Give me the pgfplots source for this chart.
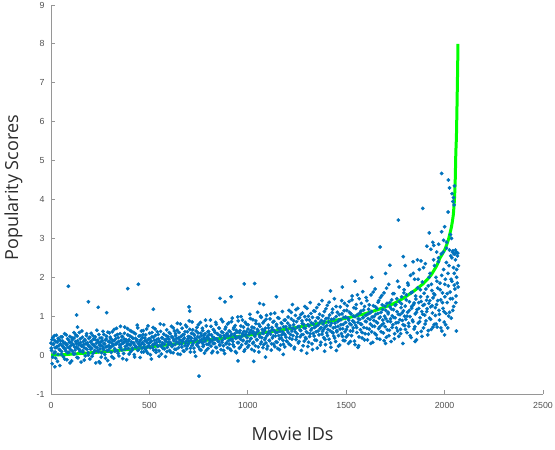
\documentclass[border=0pt]{standalone}
\usepackage{fontspec}
\setmainfont{Open Sans}
\newfontfamily\tickfont{Liberation Sans}
\usepackage{pgfplots}
\pgfplotsset{compat=1.18}
\definecolor{mblue}{RGB}{0,114,189}
\definecolor{mgreen}{RGB}{0,255,0}
\definecolor{axgray}{RGB}{150,150,150}
\definecolor{tickgray}{RGB}{80,80,80}
\definecolor{labgray}{RGB}{45,45,45}
\begin{document}
\begin{tikzpicture}
\begin{axis}[
  scale only axis,
  width=492pt, height=389pt,
  xmin=0, xmax=2500, ymin=-1, ymax=9,
  xtick={0,500,1000,1500,2000,2500},
  ytick={-1,0,1,2,3,4,5,6,7,8,9},
  axis x line*=bottom, axis y line*=left,
  axis line style={-, draw=axgray, line width=0.8pt},
  tick align=inside,
  major tick length=4pt,
  tick style={draw=axgray, line width=0.8pt},
  /pgf/number format/assume math mode=true,
  /pgf/number format/1000 sep={},
  ticklabel style={font=\tickfont\fontsize{8.8}{10}\selectfont, text=tickgray},
  xticklabel style={yshift=-5pt},
  yticklabel style={xshift=-3pt},
  xlabel={Movie IDs},
  ylabel={Popularity Scores},
  label style={font=\fontsize{18}{21}\selectfont, text=labgray},
  xlabel style={at={(axis description cs:0.491,0)}, anchor=base, yshift=-46pt},
  ylabel style={at={(axis description cs:-0.067,0.53)}, anchor=base},
]
\addplot[only marks, mark=*, mark size=1.7pt, color=mblue, mark options={draw=mblue, fill=mblue}] coordinates {
(0,0.31)(3,0.12)(6,-0.22)(9,0.45)(12,0.27)(15,0.05)(18,0.38)(21,0.19)(24,-0.08)(27,0.51)
(30,0.22)(33,0.34)(36,0.02)(39,0.41)(42,0.15)(45,-0.27)(48,0.29)(51,0.47)(54,0.09)(57,0.24)
(60,0.36)(63,-0.04)(66,0.18)(69,0.55)(72,0.31)(75,0.11)(78,0.26)(81,-0.12)(84,0.42)(87,0.2)
(90,0.07)(93,0.33)(96,0.48)(99,0.14)(102,0.25)(105,-0.15)(108,0.39)(111,0.28)(114,0.03)(117,0.44)
(120,0.21)(123,0.13)(126,0.52)(129,0.3)(132,-0.06)(135,0.37)(138,0.17)(141,0.26)(144,0.58)(147,0.1)
(150,0.32)(153,-0.18)(156,0.23)(159,0.46)(162,0.08)(165,0.35)(168,0.19)(171,0.4)(174,-0.02)(177,0.29)
(180,0.5)(183,0.15)(186,0.27)(189,0.06)(192,0.43)(195,0.22)(198,-0.1)(201,0.34)(204,0.56)(207,0.18)
(210,0.28)(213,0.04)(216,0.41)(219,0.24)(222,0.12)(225,0.47)(228,-0.2)(231,0.31)(234,0.2)(237,0.38)
(240,0.09)(243,0.53)(246,0.26)(249,0.16)(252,0.33)(255,-0.05)(258,0.44)(261,0.23)(264,0.61)(267,0.14)
(270,0.3)(273,0.02)(276,0.39)(279,0.21)(282,0.48)(285,0.11)(288,-0.14)(291,0.35)(294,0.25)(297,0.57)
(300,0.19)(303,0.42)(306,0.07)(309,0.31)(312,0.6)(315,0.24)(318,-0.08)(321,0.37)(324,0.16)(327,0.5)
(330,0.28)(333,0.69)(336,0.11)(339,0.33)(342,0.45)(345,-0.02)(348,0.26)(351,0.55)(354,0.2)(357,0.38)
(360,0.13)(363,0.48)(366,0.3)(369,0.04)(372,0.41)(375,0.72)(378,0.22)(381,0.35)(384,-0.12)(387,0.29)
(390,0.52)(393,0.17)(396,0.4)(399,0.27)(402,0.63)(405,0.09)(408,0.34)(411,0.46)(414,0.14)(417,0.31)
(420,0.58)(423,0.01)(426,0.25)(429,0.43)(432,0.2)(435,0.36)(438,0.77)(441,0.12)(444,0.3)(447,0.49)
(450,0.23)(453,-0.06)(456,0.39)(459,0.62)(462,0.18)(465,0.32)(468,0.53)(471,0.08)(474,0.27)(477,0.44)
(480,0.15)(483,0.37)(486,0.67)(489,0.21)(492,0.05)(495,0.41)(498,0.3)(501,0.56)(504,0.19)(507,0.34)
(510,-0.1)(513,0.47)(516,0.26)(519,0.71)(522,0.13)(525,0.38)(528,0.29)(531,0.51)(534,0.07)(537,0.33)
(540,0.6)(543,0.22)(546,0.42)(549,0.11)(552,0.36)(555,0.8)(558,0.25)(561,0.03)(564,0.45)(567,0.31)
(570,0.17)(573,0.54)(576,0.28)(579,0.4)(582,-0.04)(585,0.35)(588,0.65)(591,0.2)(594,0.48)(597,0.32)
(600,0.41)(603,0.12)(606,0.55)(609,0.3)(612,0.74)(615,0.22)(618,0.46)(621,0.06)(624,0.37)(627,0.62)
(630,0.27)(633,0.5)(636,0.15)(639,0.43)(642,0.82)(645,0.33)(648,0.19)(651,0.58)(654,0.39)(657,0.02)
(660,0.48)(663,0.28)(666,0.69)(669,0.35)(672,0.11)(675,0.53)(678,0.44)(681,0.24)(684,0.77)(687,0.36)
(690,0.16)(693,0.6)(696,0.42)(699,0.29)(702,0.88)(705,0.47)(708,0.08)(711,0.38)(714,0.56)(717,0.25)
(720,0.65)(723,0.34)(726,0.18)(729,0.51)(732,0.43)(735,-0.03)(738,0.4)(741,0.71)(744,0.3)(747,0.57)
(750,0.21)(753,0.46)(756,0.36)(759,0.84)(762,0.13)(765,0.5)(768,0.32)(771,0.63)(774,0.26)(777,0.44)
(780,0.05)(783,0.55)(786,0.39)(789,0.75)(792,0.28)(795,0.48)(798,0.17)(801,0.61)(804,0.41)(807,0.33)
(810,0.9)(813,0.23)(816,0.52)(819,0.37)(822,0.1)(825,0.66)(828,0.45)(831,0.3)(834,0.58)(837,0.2)
(840,0.79)(843,0.42)(846,0.07)(849,0.53)(852,0.35)(855,0.69)(858,0.27)(861,0.47)(864,0.14)(867,0.6)
(870,0.38)(873,0.86)(876,0.24)(879,0.5)(882,0.04)(885,0.44)(888,0.72)(891,0.31)(894,0.56)(897,0.19)
(900,0.49)(903,0.83)(906,0.28)(909,0.61)(912,0.4)(915,0.12)(918,0.54)(921,0.95)(924,0.35)(927,0.67)
(930,0.22)(933,0.5)(936,0.76)(939,0.43)(942,0.06)(945,0.59)(948,0.32)(951,0.88)(954,0.47)(957,0.18)
(960,0.63)(963,0.41)(966,0.99)(969,0.26)(972,0.55)(975,0.37)(978,0.72)(981,0.1)(984,0.51)(987,0.84)
(990,0.3)(993,0.6)(996,0.45)(999,0.2)(1002,0.78)(1005,0.53)(1008,0.36)(1011,1.05)(1014,0.42)(1017,0.64)
(1020,0.15)(1023,0.57)(1026,0.91)(1029,0.33)(1032,0.7)(1035,0.48)(1038,0.24)(1041,0.81)(1044,0.58)(1047,0.39)
(1050,1.1)(1053,0.62)(1056,0.08)(1059,0.52)(1062,0.74)(1065,0.29)(1068,0.97)(1071,0.45)(1074,0.66)(1077,0.19)
(1080,0.56)(1083,0.87)(1086,0.4)(1089,0.69)(1092,0.31)(1095,1.02)(1098,0.5)(1101,0.23)(1104,0.77)(1107,0.6)
(1110,0.37)(1113,0.93)(1116,0.54)(1119,0.13)(1122,0.71)(1125,0.44)(1128,0.85)(1131,0.28)(1134,0.63)(1137,1.08)
(1140,0.49)(1143,0.34)(1146,0.79)(1149,0.58)(1152,0.17)(1155,0.68)(1158,0.95)(1161,0.42)(1164,0.61)(1167,0.26)
(1170,0.83)(1173,0.52)(1176,1.12)(1179,0.38)(1182,0.73)(1185,0.55)(1188,0.21)(1191,0.9)(1194,0.46)(1197,0.66)
(1200,0.35)(1203,0.82)(1206,0.58)(1209,1.15)(1212,0.44)(1215,0.71)(1218,0.25)(1221,0.93)(1224,0.62)(1227,1.3)
(1230,0.5)(1233,0.78)(1236,0.16)(1239,0.67)(1242,1.02)(1245,0.4)(1248,0.86)(1251,0.55)(1254,1.2)(1257,0.31)
(1260,0.74)(1263,0.96)(1266,0.47)(1269,0.63)(1272,0.12)(1275,0.88)(1278,1.08)(1281,0.53)(1284,0.79)(1287,0.36)
(1290,1.25)(1293,0.69)(1296,0.42)(1299,0.91)(1302,0.58)(1305,0.22)(1308,1.0)(1311,0.75)(1314,0.48)(1317,1.35)
(1320,0.64)(1323,0.83)(1326,0.29)(1329,0.97)(1332,0.56)(1335,1.14)(1338,0.71)(1341,0.39)(1344,0.87)(1347,0.6)
(1350,1.22)(1353,0.18)(1356,0.77)(1359,0.95)(1362,0.52)(1365,1.05)(1368,0.68)(1371,0.33)(1374,0.89)(1377,1.4)
(1380,0.61)(1383,0.8)(1386,0.45)(1389,1.12)(1392,0.72)(1395,0.27)(1398,0.94)(1401,0.57)(1404,1.28)(1407,0.66)
(1410,0.85)(1413,0.41)(1416,1.03)(1419,0.76)(1422,0.2)(1425,0.92)(1428,0.59)(1431,1.18)(1434,0.7)(1437,0.49)
(1440,1.45)(1443,0.82)(1446,0.35)(1449,0.99)(1452,0.63)(1455,1.1)(1458,0.74)(1461,0.5)(1464,0.9)(1467,0.26)
(1470,1.24)(1473,0.78)(1476,0.55)(1479,1.06)(1482,0.68)(1485,0.38)(1488,0.97)(1491,1.33)(1494,0.6)(1497,0.84)
(1500,0.47)(1503,1.15)(1506,0.73)(1509,0.95)(1512,0.3)(1515,1.38)(1518,0.81)(1521,0.62)(1524,1.06)(1527,0.5)
(1530,1.52)(1533,0.88)(1536,0.7)(1539,1.22)(1542,0.36)(1545,0.99)(1548,0.77)(1551,1.3)(1554,0.58)(1557,1.04)
(1560,0.84)(1563,0.24)(1566,1.45)(1569,0.92)(1572,0.65)(1575,1.13)(1578,0.79)(1581,0.44)(1584,1.63)(1587,0.97)
(1590,0.71)(1593,1.25)(1596,0.55)(1599,1.02)(1602,0.86)(1605,1.4)(1608,0.39)(1611,0.94)(1614,1.18)(1617,0.67)
(1620,1.08)(1623,0.8)(1626,1.55)(1629,0.6)(1632,0.98)(1635,0.33)(1638,1.27)(1641,0.89)(1644,0.74)(1647,1.7)
(1650,1.05)(1653,0.52)(1656,1.2)(1659,0.83)(1662,1.36)(1665,0.68)(1668,0.95)(1671,0.41)(1674,1.48)(1677,1.1)
(1680,0.77)(1683,1.29)(1686,0.9)(1689,0.57)(1692,1.6)(1695,1.0)(1698,0.73)(1701,1.15)(1704,0.46)(1707,1.33)
(1710,0.87)(1713,1.06)(1716,1.82)(1719,0.64)(1722,1.24)(1725,0.93)(1728,0.35)(1731,1.42)(1734,1.01)(1737,0.78)
(1740,1.17)(1743,1.58)(1746,0.55)(1749,0.96)(1752,1.3)(1755,0.7)(1758,1.12)(1761,1.9)(1764,0.84)(1767,0.48)
(1770,1.37)(1773,1.04)(1776,0.66)(1779,1.22)(1782,1.5)(1785,0.89)(1788,0.3)(1791,1.14)(1794,1.68)(1797,0.76)
(1800,1.26)(1803,0.92)(1806,1.55)(1809,0.58)(1812,1.1)(1815,1.8)(1818,0.74)(1821,1.37)(1824,0.99)(1827,2.05)
(1830,0.45)(1833,1.21)(1836,1.62)(1839,0.86)(1842,1.3)(1845,0.67)(1848,1.95)(1851,1.06)(1854,1.44)(1857,0.39)
(1860,1.17)(1863,1.73)(1866,0.82)(1869,1.35)(1872,2.2)(1875,0.96)(1878,1.5)(1881,0.61)(1884,1.12)(1887,1.88)
(1890,1.28)(1893,0.7)(1896,1.59)(1899,1.03)(1902,2.35)(1905,0.88)(1908,1.41)(1911,1.19)(1914,0.52)(1917,1.78)
(1920,1.33)(1923,0.95)(1926,2.1)(1929,1.24)(1932,0.66)(1935,1.66)(1938,1.08)(1941,1.47)(1944,2.45)(1947,0.79)
(1950,1.55)(1953,1.02)(1956,2.0)(1959,1.3)(1962,0.72)(1965,1.72)(1968,2.4)(1971,1.15)(1974,0.9)(1977,1.85)
(1980,1.42)(1983,2.6)(1986,0.62)(1989,1.6)(1992,1.2)(1995,2.2)(1998,0.85)(2001,1.5)(2004,1.95)(2007,1.07)
(2010,2.75)(2013,1.35)(2016,0.7)(2019,1.78)(2022,2.3)(2025,1.1)(2028,1.62)(2031,2.55)(2034,0.95)(2037,1.9)
(2040,1.45)(2043,2.68)(2046,1.25)(2049,2.1)(2052,1.7)(2055,2.45)(2058,1.52)(2061,2.2)(2064,1.85)(2067,2.62)(2070,2.3)
(1,0.18)(5,0.4)(9,-0.05)(13,0.29)(17,0.5)(21,0.08)(25,0.34)(29,0.2)(33,-0.16)(37,0.43)
(41,0.25)(45,0.13)(49,0.37)(53,0.02)(57,0.47)(61,0.22)(65,0.31)(69,-0.1)(73,0.16)(77,0.52)
(81,0.28)(85,0.06)(89,0.39)(93,0.19)(97,-0.2)(101,0.33)(105,0.45)(109,0.1)(113,0.26)(117,0.58)
(121,0.03)(125,0.35)(129,0.21)(133,0.49)(137,-0.07)(141,0.3)(145,0.14)(149,0.42)(153,0.24)(157,0.62)
(161,0.11)(165,0.27)(169,-0.13)(173,0.38)(177,0.17)(181,0.55)(185,0.32)(189,0.0)(193,0.23)(197,0.46)
(201,0.15)(205,0.36)(209,-0.03)(213,0.5)(217,0.27)(221,0.09)(225,0.4)(229,0.2)(233,0.64)(237,0.12)
(241,0.33)(245,-0.17)(249,0.44)(253,0.25)(257,0.06)(261,0.37)(265,0.18)(269,0.53)(273,0.29)(277,-0.08)
(281,0.41)(285,0.22)(289,0.59)(293,0.13)(297,0.34)
(301,0.46)(305,0.21)(309,-0.04)(313,0.38)(317,0.27)(321,0.66)(325,0.1)(329,0.42)(333,0.3)(337,0.53)
(341,0.05)(345,0.35)(349,0.2)(353,0.74)(357,0.28)(361,0.47)(365,-0.09)(369,0.33)(373,0.56)(377,0.15)
(381,0.4)(385,0.24)(389,0.68)(393,0.36)(397,0.03)(401,0.49)(405,0.26)(409,0.61)(413,0.18)(417,0.43)
(421,0.31)(425,-0.05)(429,0.55)(433,0.22)(437,0.39)(441,0.7)(445,0.14)(449,0.34)(453,0.5)(457,0.27)
(461,0.08)(465,0.45)(469,0.63)(473,0.2)(477,0.37)(481,0.52)(485,0.1)(489,0.32)(493,0.75)(497,0.24)
(501,0.42)(505,0.01)(509,0.36)(513,0.58)(517,0.19)(521,0.46)(525,0.29)(529,0.67)(533,0.13)(537,0.4)
(541,0.25)(545,0.53)(549,-0.03)(553,0.34)(557,0.61)(561,0.22)(565,0.44)(569,0.3)(573,0.78)(577,0.16)
(581,0.38)(585,0.5)(589,0.09)(593,0.43)(597,0.27)
(601,0.58)(605,0.33)(609,0.07)(613,0.47)(617,0.26)(621,0.7)(625,0.4)(629,0.15)(633,0.55)(637,0.34)
(641,0.64)(645,0.03)(649,0.45)(653,0.28)(657,0.8)(661,0.37)(665,0.21)(669,0.52)(673,0.41)(677,0.1)
(681,0.6)(685,0.31)(689,0.73)(693,0.24)(697,0.48)(701,0.36)(705,0.66)(709,0.18)(713,0.44)(717,0.85)
(721,0.29)(725,0.54)(729,0.08)(733,0.39)(737,0.62)(741,0.26)(745,0.47)(749,0.78)(753,0.33)(757,0.14)
(761,0.56)(765,0.4)(769,0.69)(773,0.22)(777,0.51)(781,0.35)(785,0.9)(789,0.12)(793,0.45)(797,0.6)
(801,0.28)(805,0.53)(809,0.38)(813,0.74)(817,0.06)(821,0.47)(825,0.3)(829,0.63)(833,0.41)(837,0.84)
(841,0.19)(845,0.55)(849,0.36)(853,0.7)(857,0.25)(861,0.5)(865,0.92)(869,0.33)(873,0.58)(877,0.12)
(881,0.44)(885,0.67)(889,0.29)(893,0.52)(897,0.8)
(901,0.37)(905,0.62)(909,0.16)(913,0.5)(917,0.86)(921,0.41)(925,0.27)(929,0.71)(933,0.55)(937,0.09)
(941,0.64)(945,0.45)(949,0.98)(953,0.32)(957,0.58)(961,0.2)(965,0.75)(969,0.48)(973,0.9)(977,0.38)
(981,0.61)(985,0.14)(989,0.53)(993,0.8)(997,0.35)(1001,0.67)(1005,0.25)(1009,0.58)(1013,0.94)(1017,0.43)
(1021,0.72)(1025,0.3)(1029,0.6)(1033,0.11)(1037,0.52)(1041,0.88)(1045,0.4)(1049,0.66)(1053,0.21)(1057,0.79)
(1061,0.47)(1065,1.0)(1069,0.34)(1073,0.57)(1077,0.83)(1081,0.27)(1085,0.63)(1089,0.44)(1093,0.92)(1097,0.16)
(1101,0.55)(1105,0.7)(1109,0.38)(1113,0.61)(1117,1.06)(1121,0.29)(1125,0.66)(1129,0.49)(1133,0.87)(1137,0.22)
(1141,0.58)(1145,0.75)(1149,0.33)(1153,0.96)(1157,0.5)(1161,0.14)(1165,0.69)(1169,0.44)(1173,0.81)(1177,0.6)
(1181,0.28)(1185,0.9)(1189,0.52)(1193,0.73)(1197,0.36)
(1201,0.63)(1205,0.98)(1209,0.29)(1213,0.76)(1217,0.53)(1221,1.1)(1225,0.41)(1229,0.69)(1233,0.88)(1237,0.2)
(1241,0.6)(1245,1.17)(1249,0.47)(1253,0.72)(1257,0.94)(1261,0.35)(1265,0.65)(1269,1.04)(1273,0.52)(1277,0.81)
(1281,0.24)(1285,0.7)(1289,0.99)(1293,0.45)(1297,0.6)(1301,1.2)(1305,0.78)(1309,0.33)(1313,0.9)(1317,0.55)
(1321,1.07)(1325,0.68)(1329,0.14)(1333,0.8)(1337,0.49)(1341,1.13)(1345,0.73)(1349,0.38)(1353,0.96)(1357,0.62)
(1361,1.3)(1365,0.83)(1369,0.26)(1373,0.71)(1377,0.54)(1381,1.01)(1385,0.66)(1389,0.87)(1393,0.4)(1397,1.19)
(1401,0.76)(1405,0.5)(1409,0.95)(1413,1.36)(1417,0.63)(1421,0.31)(1425,0.82)(1429,1.09)(1433,0.57)(1437,0.93)
(1441,0.44)(1445,0.72)(1449,1.25)(1453,0.6)(1457,0.86)(1461,0.23)(1465,1.04)(1469,0.67)(1473,0.91)(1477,1.4)
(1481,0.48)(1485,0.79)(1489,1.14)(1493,0.37)(1497,0.98)
(1501,0.66)(1505,1.27)(1509,0.52)(1513,0.9)(1517,1.1)(1521,0.35)(1525,0.78)(1529,1.42)(1533,0.62)(1537,1.0)
(1541,0.84)(1545,0.27)(1549,1.2)(1553,0.71)(1557,1.55)(1561,0.93)(1565,0.47)(1569,1.08)(1573,0.8)(1577,1.33)
(1581,0.58)(1585,0.96)(1589,1.16)(1593,0.39)(1597,0.87)(1601,1.48)(1605,0.69)(1609,1.05)(1613,0.54)(1617,1.29)
(1621,0.92)(1625,0.3)(1629,1.12)(1633,0.75)(1637,1.62)(1641,0.99)(1645,0.56)(1649,1.24)(1653,0.85)(1657,0.43)
(1661,1.07)(1665,1.4)(1669,0.72)(1673,0.98)(1677,0.6)(1681,1.53)(1685,1.17)(1689,0.81)(1693,0.37)(1697,1.26)
(1701,0.94)(1705,1.72)(1709,0.65)(1713,1.1)(1717,0.5)(1721,1.35)(1725,0.86)(1729,1.19)(1733,0.71)(1737,1.58)
(1741,0.97)(1745,0.42)(1749,1.28)(1753,0.83)(1757,1.45)(1761,0.62)(1765,1.05)(1769,1.75)(1773,0.91)(1777,0.55)
(1781,1.32)(1785,1.09)(1789,0.78)(1793,1.6)(1797,1.0)
(1801,0.66)(1805,1.42)(1809,1.0)(1813,1.85)(1817,0.82)(1821,1.15)(1825,0.5)(1829,1.6)(1833,1.25)(1837,0.9)
(1841,2.1)(1845,1.34)(1849,0.73)(1853,1.52)(1857,1.1)(1861,0.57)(1865,1.95)(1869,1.2)(1873,0.86)(1877,1.68)
(1881,1.38)(1885,0.48)(1889,1.05)(1893,2.25)(1897,1.3)(1901,0.8)(1905,1.7)(1909,1.12)(1913,1.5)(1917,0.63)
(1921,2.0)(1925,1.4)(1929,0.92)(1933,1.82)(1937,1.27)(1941,0.72)(1945,1.58)(1949,2.3)
(1953,1.22)(1957,0.8)(1961,1.9)(1965,1.4)(1969,2.5)(1973,1.05)(1977,1.68)(1981,0.7)(1985,2.05)(1989,1.35)
(1993,2.65)(1997,1.12)(2001,1.82)(2005,0.78)(2009,2.38)(2013,1.58)(2017,2.1)(2021,1.0)(2025,2.7)(2029,1.45)
(2033,1.95)(2037,2.5)(2041,1.15)(2045,2.25)(2049,1.8)(2053,2.6)(2057,1.35)(2061,2.0)(2065,2.55)(2069,1.75)
(88,1.77)(130,1.03)(135,0.72)(190,1.37)(240,1.23)(283,1.09)(390,1.71)(444,1.82)(520,1.18)(701,1.24)
(705,1.13)(752,-0.54)(859,1.46)(884,1.37)(915,1.5)(982,1.83)(950,-0.15)(1035,1.84)(1060,1.33)(1080,1.3)
(1145,1.5)(1030,-0.16)(20,-0.3)(249,-0.2)(300,-0.25)
(1672,2.78)(1722,2.31)(1765,3.47)(1790,2.53)(1862,2.45)(1880,2.42)(1889,3.77)(1910,2.8)(1922,3.14)(1930,2.72)
(1940,2.9)(1945,2.82)(1985,4.67)(1985,3.17)(2018,3.68)(2019,4.5)(2025,4.3)(2030,3.1)(2035,3.0)(2038,4.15)
(2042,3.95)(2045,4.05)(2048,3.86)(2050,4.35)(2040,2.65)(2048,2.6)(2055,2.7)(2060,2.65)(2010,2.9)(2000,3.3)
(1995,2.95)(1960,2.65)(1970,2.85)(1545,1.9)(1420,1.65)(1480,1.75)(1630,2.0)(1700,2.1)(1800,2.3)(1840,2.4)
(1090,-0.05)(1180,0.02)(1300,0.05)(1390,0.1)(1450,0.12)(1560,0.2)(1700,0.3)(1850,0.35)(2000,0.52)(2060,0.62)
};
\addplot[color=mgreen, line width=3pt, smooth, tension=0.3] coordinates {
(0,0)(60,0.01)(120,0.03)(200,0.06)(300,0.1)(400,0.15)(500,0.21)(600,0.27)(700,0.33)(800,0.39)
(900,0.45)(1000,0.51)(1100,0.59)(1200,0.67)(1300,0.76)(1400,0.85)(1500,0.95)(1600,1.07)(1672,1.19)(1730,1.3)
(1773,1.41)(1810,1.53)(1850,1.67)(1892,1.84)(1930,2.05)(1960,2.3)(1977,2.5)(2000,2.7)(2019,2.96)(2035,3.3)
(2044,3.6)(2050,4.0)(2054,4.5)(2057,5.2)(2060,5.6)(2063,6.4)(2066,7.3)(2068,8.0)
};
\coordinate (SW) at (rel axis cs:0,0);
\coordinate (NE) at (rel axis cs:1,1);
\end{axis}
\pgfresetboundingbox
\path ([shift={(-51pt,-55pt)}]SW) rectangle ([shift={(12pt,5pt)}]NE);
\end{tikzpicture}
\end{document}
